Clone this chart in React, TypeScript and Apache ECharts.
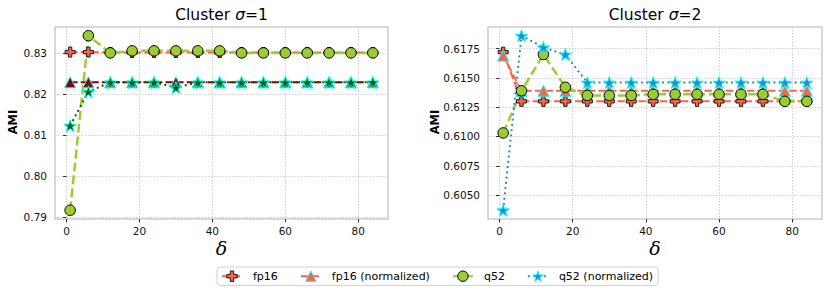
import React, { useEffect, useRef } from "react";
import * as echarts from "echarts";

// ---------- data ----------
const deltas = [1, 6, 12, 18, 24, 30, 36, 42, 48, 54, 60, 66, 72, 78, 84];

// Cluster sigma = 1
const fp16S1 = [0.8303, 0.8303, 0.8302, 0.8302, 0.8302, 0.8302, 0.8302, 0.8302, 0.8302, 0.8302, 0.8302, 0.8302, 0.8302, 0.8302, 0.8302];
const fp16NormS1 = [0.8229, 0.8229, 0.8229, 0.8229, 0.8229, 0.8229, 0.8229, 0.8229, 0.8229, 0.8229, 0.8229, 0.8229, 0.8229, 0.8229, 0.8229];
const q52S1 = [0.7916, 0.8343, 0.8301, 0.8306, 0.8306, 0.8306, 0.8306, 0.8306, 0.8301, 0.8301, 0.8301, 0.8301, 0.8301, 0.8301, 0.8301];
const q52NormS1 = [0.8123, 0.8206, 0.8229, 0.8229, 0.8229, 0.8216, 0.8229, 0.8229, 0.8229, 0.8229, 0.8229, 0.8229, 0.8229, 0.8229, 0.8229];

// Cluster sigma = 2
const fp16S2 = [0.6172, 0.6130, 0.6130, 0.6130, 0.6130, 0.6130, 0.6130, 0.6130, 0.6130, 0.6130, 0.6130, 0.6130, 0.6130, 0.6130, 0.6130];
const fp16NormS2 = [0.6169, 0.6139, 0.6139, 0.6139, 0.6139, 0.6139, 0.6139, 0.6139, 0.6139, 0.6139, 0.6139, 0.6139, 0.6139, 0.6139, 0.6139];
const q52S2 = [0.6103, 0.6139, 0.6170, 0.6142, 0.6135, 0.6135, 0.6135, 0.6136, 0.6136, 0.6136, 0.6136, 0.6136, 0.6136, 0.6130, 0.6130];
const q52NormS2 = [0.6037, 0.6186, 0.6176, 0.6170, 0.6146, 0.6146, 0.6146, 0.6146, 0.6146, 0.6146, 0.6146, 0.6146, 0.6146, 0.6146, 0.6146];

const xTicks = [0, 20, 40, 60, 80];
const yTicksS1 = [0.79, 0.8, 0.81, 0.82, 0.83];
const yTicksS2 = [0.605, 0.6075, 0.61, 0.6125, 0.615, 0.6175];

const seriesNames = ["fp16", "fp16 (normalized)", "q52", "q52 (normalized)"];
const titles = ["Cluster ", "Cluster "];
const titleSuffix = ["=1", "=2"];

// ---------- helpers ----------
const FONT = "DejaVu Sans";
const PLUS = "path://M-1,-3L1,-3L1,-1L3,-1L3,1L1,1L1,3L-1,3L-1,1L-3,1L-3,-1L-1,-1Z";
const STAR =
  "path://M0,-1L0.2245,-0.309L0.9511,-0.309L0.3633,0.118L0.5878,0.809L0,0.382L-0.5878,0.809L-0.3633,0.118L-0.9511,-0.309L-0.2245,-0.309Z";

function extent(arrs: number[][]) {
  let lo = Infinity, hi = -Infinity;
  arrs.forEach((a) => a.forEach((v) => { lo = Math.min(lo, v); hi = Math.max(hi, v); }));
  const m = (hi - lo) * 0.05;
  return [lo - m, hi + m];
}

function pairs(vals: number[]) {
  return deltas.map((d, i) => [d, vals[i]]);
}

function line(
  name: string, idx: number, vals: number[], color: string, dash: any, width: number,
  symbol: string, size: number, fill: string, edge: string
) {
  return {
    name, type: "line", xAxisIndex: idx, yAxisIndex: idx, data: pairs(vals),
    symbol, symbolSize: size, symbolKeepAspect: true, showSymbol: true, showAllSymbol: true,
    itemStyle: { color: fill, borderColor: edge, borderWidth: 1, opacity: 1 },
    lineStyle: { color, width, type: dash },
    emphasis: { disabled: true },
    animation: false,
  };
}

function plotSeries(idx: number, fp: number[], fpn: number[], q: number[], qn: number[], left: boolean) {
  const triFill = left ? "#8b0000" : "#ff6347";
  const triLine = left ? "#8b0000" : "#ff6347";
  const starFill = left ? "#006400" : "#3787c8";
  return [
    line(seriesNames[0], idx, fp, "#ff6347", [7.4, 3.2], 2, PLUS, 10, "#ff6347", "#1a1a1a"),
    line(seriesNames[1], idx, fpn, triLine, [7.4, 3.2], 2, "triangle", 11, triFill, "#00ffff"),
    line(seriesNames[2], idx, q, "#9acd32", [9, 4], 2.5, "circle", 10.5, "#9acd32", "#000000"),
    line(seriesNames[3], idx, qn, starFill, [2, 3.3], 2, STAR, 12.5, starFill, "#00ffff"),
  ];
}

function xAxis(idx: number) {
  const [mn, mx] = extent([deltas]);
  return {
    type: "value", gridIndex: idx, min: mn, max: mx,
    axisLine: { show: false },
    axisTick: { show: true, length: 3.5, customValues: xTicks, lineStyle: { color: "#333", width: 1 } },
    axisLabel: { customValues: xTicks, margin: 6, fontSize: 10.5, fontFamily: FONT, color: "#111" },
    splitLine: { show: true, lineStyle: { color: "#c4c4c4", width: 0.8, type: [1.5, 1.5] } },
  };
}

function yAxis(idx: number, data: number[][], ticks: number[], digits: number) {
  const [mn, mx] = extent(data);
  return {
    type: "value", gridIndex: idx, min: mn, max: mx,
    axisLine: { show: false },
    axisTick: { show: true, length: 3.5, customValues: ticks, lineStyle: { color: "#333", width: 1 } },
    axisLabel: {
      customValues: ticks, margin: 8, fontSize: 10.5, fontFamily: FONT, color: "#111",
      formatter: (v: number) => v.toFixed(digits),
    },
    splitLine: { show: true, lineStyle: { color: "#c4c4c4", width: 0.8, type: [1.5, 1.5] } },
  };
}

function titleText(i: number, cx: number) {
  return {
    type: "text", x: cx, y: 15,
    style: {
      text: `{n|${titles[i]}}{s|σ}{n|${titleSuffix[i]}}`,
      align: "center", verticalAlign: "middle",
      rich: {
        n: { fontSize: 15.5, fontFamily: FONT, fill: "#000" },
        s: { fontSize: 15.5, fontFamily: FONT, fontStyle: "italic", fill: "#000" },
      },
    },
  };
}

function simpleText(text: string, x: number, y: number, size: number, family: string, italic: boolean, bold: boolean, rot = 0) {
  return {
    type: "text", x, y, rotation: rot,
    style: {
      text, fontSize: size, fontFamily: family, fontStyle: italic ? "italic" : "normal",
      fontWeight: bold ? "bold" : "normal",
      fill: "#000", align: "center", verticalAlign: "middle",
    },
  };
}

export default function App() {
  const ref = useRef<HTMLDivElement>(null);
  useEffect(() => {
    if (!ref.current) return;
    const chart = echarts.init(ref.current, undefined, { renderer: "svg" });
    const s1 = [fp16S1, fp16NormS1, q52S1, q52NormS1];
    const s2 = [fp16S2, fp16NormS2, q52S2, q52NormS2];
    const option: any = {
      animation: false,
      backgroundColor: "#ffffff",
      grid: [
        { left: 55, top: 27, width: 333, height: 192, show: true, borderColor: "#cccccc", borderWidth: 1.5, backgroundColor: "transparent" },
        { left: 488, top: 27, width: 334, height: 192, show: true, borderColor: "#cccccc", borderWidth: 1.5, backgroundColor: "transparent" },
      ],
      xAxis: [xAxis(0), xAxis(1)],
      yAxis: [yAxis(0, s1, yTicksS1, 2), yAxis(1, s2, yTicksS2, 4)],
      legend: {
        left: 217, top: 267, orient: "horizontal",
        itemWidth: 20, itemHeight: 13, itemGap: 22,
        padding: [3.5, 5, 3.5, 4],
        borderColor: "#d0d0d0", borderWidth: 1, borderRadius: 3, backgroundColor: "#ffffff",
        itemStyle: { borderWidth: 1 },
        textStyle: { fontSize: 11, fontFamily: FONT, color: "#000", padding: [0, 0, 0, 6] },
        data: seriesNames,
        selectedMode: false,
      },
      // right-plot series first so the legend takes its styles from them
      series: [
        ...plotSeries(1, fp16S2, fp16NormS2, q52S2, q52NormS2, false),
        ...plotSeries(0, fp16S1, fp16NormS1, q52S1, q52NormS1, true),
      ],
      graphic: [
        titleText(0, 221.5),
        titleText(1, 655),
        simpleText("AMI", 13, 122, 11.5, FONT, false, true, Math.PI / 2),
        simpleText("AMI", 435, 122, 11.5, FONT, false, true, Math.PI / 2),
        simpleText("δ", 221.5, 248, 19, "DejaVu Serif", true, false),
        simpleText("δ", 655, 248, 19, "DejaVu Serif", true, false),
      ],
    };
    chart.setOption(option);
    return () => chart.dispose();
  }, []);
  return (
    <div
      ref={ref}
      style={{ position: "fixed", left: 0, top: 0, width: 830, height: 295, background: "#fff" }}
    />
  );
}
